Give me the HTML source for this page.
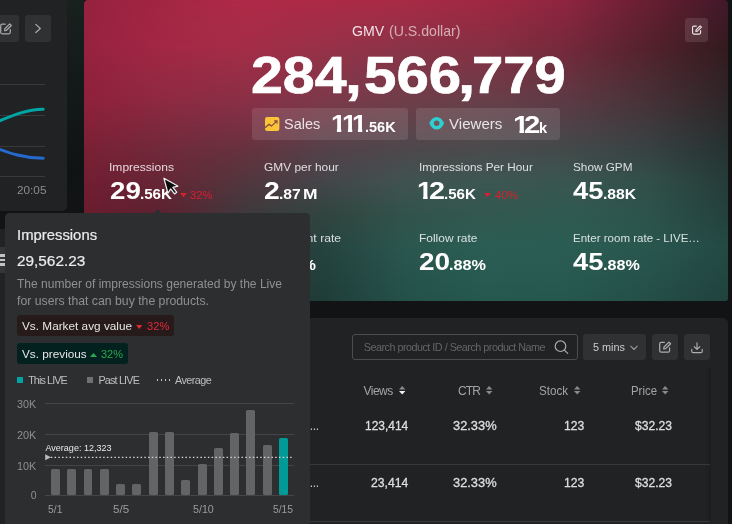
<!DOCTYPE html>
<html lang="en"><head><meta charset="utf-8"><title>Live dashboard</title>
<style>
html,body{margin:0;padding:0}
body{width:732px;height:524px;overflow:hidden;background:#111314;position:relative;font-family:"Liberation Sans",sans-serif;}
.t{position:absolute;height:80px;transform-origin:0 0;display:flex;align-items:baseline;white-space:nowrap;line-height:1;}
.t::before{content:"";width:0;height:80px;flex:none}
#app{position:absolute;left:0;top:0;width:732px;height:524px;overflow:hidden;will-change:transform}
.b{position:absolute;box-sizing:border-box}
svg{position:absolute;overflow:visible}
</style></head>
<body>
<div id="app">
<div class="b" style="left:67px;top:0px;width:17px;height:211px;background:linear-gradient(180deg,#19211f 0%,#141a19 35%,#101314 80%,#111314 100%);"></div>
<div class="b" style="left:0px;top:0px;width:67px;height:211px;background:#202224;border-radius:0 0 5px 0;"></div>
<div class="b" style="left:-7px;top:15.2px;width:26px;height:26.6px;background:#2f3133;border-radius:3px;"></div>
<div class="b" style="left:25px;top:15.2px;width:26px;height:26.6px;background:#2f3133;border-radius:3px;"></div>
<svg style="left:0;top:22.5px" width="12" height="12" viewBox="0 0 12 12" fill="none" stroke="#a8a9ab" stroke-width="1.25" stroke-linecap="round" stroke-linejoin="round"><path d="M5.2 1.2H2.2Q.7 1.2 .7 2.7v6.6q0 1.5 1.5 1.5h6.6q1.5 0 1.5-1.5V6.6"/><path d="M4.6 7.6l.3-1.9L9.7.9l1.6 1.6-4.8 4.8z"/></svg>
<svg style="left:33px;top:22px" width="10" height="13" viewBox="0 0 10 13" fill="none" stroke="#a8a9ab" stroke-width="1.25" stroke-linecap="round" stroke-linejoin="round"><path d="M2.800 2.400l4.500 4.050-4.500 4.050"/></svg>
<div class="b" style="left:0px;top:84px;width:44.5px;height:1px;background:#38393b;"></div>
<div class="b" style="left:0px;top:115px;width:44.5px;height:1px;background:#38393b;"></div>
<div class="b" style="left:0px;top:146px;width:44.5px;height:1px;background:#38393b;"></div>
<div class="b" style="left:0px;top:175.5px;width:44.5px;height:1px;background:#38393b;"></div>
<svg style="left:0;top:0" width="67" height="211" viewBox="0 0 67 211" fill="none" stroke-width="3" stroke-linecap="round"><path d="M-6 123.200C8 117.500 24 109.600 43.200 109.200" stroke="#00a6a6"/><path d="M-6 147.300C10 153.200 24 158.200 43.200 158.300" stroke="#2669cf"/></svg>
<div class="t" style="left:17.21px;top:114px;font-size:10.3px;color:#8b8c8e;transform:scaleX(1.1429);">20:05</div>
<div class="b" style="left:0px;top:229px;width:67px;height:300px;background:#202224;border-radius:0 5px 0 0;"></div>
<div class="b" style="left:-14px;top:247px;width:26px;height:26px;background:#343638;border-radius:3px;"></div>
<div class="b" style="left:-6px;top:254.4px;width:16px;height:2.3px;background:#c2c3c5;"></div>
<div class="b" style="left:-6px;top:258.9px;width:16px;height:2.3px;background:#c2c3c5;"></div>
<div class="b" style="left:-6px;top:263.4px;width:16px;height:2.3px;background:#c2c3c5;"></div>
<div class="b" style="left:84px;top:0px;width:644px;height:300.5px;border-radius:4px;overflow:hidden">
<div style="position:absolute;left:0;top:0;width:100%;height:100%;background:linear-gradient(90deg,#962240 0.00%,#a42643 12.58%,#b02a48 25.00%,#ad2a47 37.42%,#a82a45 49.84%,#a02842 62.27%,#8f2540 74.69%,#6a1f32 87.11%,#42192a 100.00%);"></div>
<div style="position:absolute;left:0;top:0;width:100%;height:100%;background:linear-gradient(90deg,#962240 0.00%,#a32845 12.58%,#a42d47 25.00%,#973148 37.42%,#8a3448 49.84%,#863043 62.27%,#75293a 74.69%,#55222e 87.11%,#331b20 100.00%);-webkit-mask-image:linear-gradient(180deg,transparent 0px,#000 48px);mask-image:linear-gradient(180deg,transparent 0px,#000 48px);"></div>
<div style="position:absolute;left:0;top:0;width:100%;height:100%;background:linear-gradient(90deg,#8e213b 0.00%,#8c2a41 12.58%,#883046 25.00%,#7a3a4a 37.42%,#6e3e4a 49.84%,#66404a 62.27%,#5c3b46 74.69%,#473339 87.11%,#2e2628 100.00%);-webkit-mask-image:linear-gradient(180deg,transparent 48px,#000 103px);mask-image:linear-gradient(180deg,transparent 48px,#000 103px);"></div>
<div style="position:absolute;left:0;top:0;width:100%;height:100%;background:linear-gradient(90deg,#7a2035 0.00%,#702a3a 12.58%,#66323f 25.00%,#54424a 37.42%,#4d484c 49.84%,#4a4b4d 62.27%,#434a4a 74.69%,#384343 87.11%,#263332 100.00%);-webkit-mask-image:linear-gradient(180deg,transparent 103px,#000 150px);mask-image:linear-gradient(180deg,transparent 103px,#000 150px);"></div>
<div style="position:absolute;left:0;top:0;width:100%;height:100%;background:linear-gradient(90deg,#721e32 0.00%,#652736 12.58%,#52363e 25.00%,#44464a 37.42%,#405350 49.84%,#3d5752 62.27%,#3a5650 74.69%,#325049 87.11%,#263c39 100.00%);-webkit-mask-image:linear-gradient(180deg,transparent 150px,#000 182px);mask-image:linear-gradient(180deg,transparent 150px,#000 182px);"></div>
<div style="position:absolute;left:0;top:0;width:100%;height:100%;background:linear-gradient(90deg,#6a1c2e 0.00%,#5b2331 12.58%,#3f393d 25.00%,#32453f 37.42%,#32534b 49.84%,#33584f 62.27%,#305a51 74.69%,#2d544c 87.11%,#24413d 100.00%);-webkit-mask-image:linear-gradient(180deg,transparent 182px,#000 213px);mask-image:linear-gradient(180deg,transparent 182px,#000 213px);"></div>
<div style="position:absolute;left:0;top:0;width:100%;height:100%;background:linear-gradient(90deg,#5a1a2a 0.00%,#482430 12.58%,#33373a 25.00%,#26433f 37.42%,#2a574e 49.84%,#2b5e54 62.27%,#2b5d53 74.69%,#29574e 87.11%,#244a44 100.00%);-webkit-mask-image:linear-gradient(180deg,transparent 213px,#000 248px);mask-image:linear-gradient(180deg,transparent 213px,#000 248px);"></div>
<div style="position:absolute;left:0;top:0;width:100%;height:100%;background:linear-gradient(90deg,#4a1a26 0.00%,#38252c 12.58%,#263436 25.00%,#1f3d38 37.42%,#24514a 49.84%,#26584f 62.27%,#26574e 74.69%,#244f48 87.11%,#20433d 100.00%);-webkit-mask-image:linear-gradient(180deg,transparent 248px,#000 300px);mask-image:linear-gradient(180deg,transparent 248px,#000 300px);"></div>
</div>
<div class="t" style="left:352.09px;top:-44px;font-size:14.4px;color:rgba(255,255,255,.86);transform:scaleX(0.9843);">GMV</div>
<div class="t" style="left:388.92px;top:-44px;font-size:14.4px;color:rgba(255,255,255,.6);transform:scaleX(0.9822);">(U.S.dollar)</div>
<div class="t" style="left:250.90px;top:13px;font-size:52px;color:#fff;font-weight:700;transform:scaleX(1.1013);-webkit-text-stroke:.7px #fff;">284</div>
<div class="t" style="left:345.00px;top:13px;font-size:52px;color:#fff;font-weight:700;transform:scaleX(1.1671);-webkit-text-stroke:.7px #fff;">,</div>
<div class="t" style="left:363.75px;top:13px;font-size:52px;color:#fff;font-weight:700;transform:scaleX(1.1196);-webkit-text-stroke:.7px #fff;">566</div>
<div class="t" style="left:457.51px;top:13px;font-size:52px;color:#fff;font-weight:700;transform:scaleX(1.1936);-webkit-text-stroke:.7px #fff;">,</div>
<div class="t" style="left:472.01px;top:13px;font-size:52px;color:#fff;font-weight:700;transform:scaleX(1.0801);-webkit-text-stroke:.7px #fff;">779</div>
<div class="b" style="left:252.4px;top:107.8px;width:155.4px;height:32px;background:rgba(255,255,255,.11);border-radius:3px;"></div>
<div class="b" style="left:416.2px;top:107.8px;width:143.6px;height:32px;background:rgba(255,255,255,.11);border-radius:3px;"></div>
<svg style="left:265px;top:116.600px" width="14.400" height="14" viewBox="0 0 14.600 14.200"><rect width="14.600" height="14.200" rx="2.200" fill="#fbc338"/><path d="M0 10.900L4.100 7.300l2.400 1.900 4.900-4.500M9.300 3.900h2.900v2.800" fill="none" stroke="#7d4a3c" stroke-width="1.200" stroke-linejoin="round"/></svg>
<div class="t" style="left:284.40px;top:49px;font-size:15px;color:rgba(255,255,255,.84);transform:scaleX(0.9632);">Sales</div>
<div class="t" style="left:330.97px;top:52px;font-size:24.4px;color:#fff;font-weight:700;clip-path:polygon(-5.00px 0.00px,23.57px 0.00px,23.57px 76.81px,9.34px 76.81px,9.34px 86.10px,5.39px 86.10px,5.39px 76.81px,-5.00px 76.81px);transform:scaleX(1.0985);">1</div>
<div class="t" style="left:341.57px;top:52px;font-size:24.4px;color:#fff;font-weight:700;clip-path:polygon(-5.00px 0.00px,23.57px 0.00px,23.57px 76.81px,9.34px 76.81px,9.34px 86.10px,5.39px 86.10px,5.39px 76.81px,-5.00px 76.81px);transform:scaleX(1.0985);">1</div>
<div class="t" style="left:352.17px;top:52px;font-size:24.4px;color:#fff;font-weight:700;clip-path:polygon(-5.00px 0.00px,23.57px 0.00px,23.57px 76.81px,9.34px 76.81px,9.34px 86.10px,5.39px 86.10px,5.39px 76.81px,-5.00px 76.81px);transform:scaleX(1.0985);">1</div>
<div class="t" style="left:364.92px;top:52px;font-size:15px;color:#fff;font-weight:700;transform:scaleX(0.9664);">.56K</div>
<svg style="left:429px;top:117.400px" width="15.400" height="12.600" viewBox="0 0 15.400 12.600"><path fill-rule="evenodd" fill="#2ecfd0" d="M.25 6.300C2.100 2.100 4.600 0 7.700 0s5.600 2.100 7.450 6.300c-1.850 4.200-4.350 6.300-7.450 6.300S2.100 10.500.25 6.300zM7.700 3.500a2.800 2.800 0 1 0 0 5.600 2.800 2.800 0 0 0 0-5.600z"/></svg>
<div class="t" style="left:448.97px;top:49px;font-size:15px;color:rgba(255,255,255,.84);transform:scaleX(1.0045);">Viewers</div>
<div class="t" style="left:512.61px;top:53px;font-size:24.8px;color:#fff;font-weight:700;clip-path:polygon(-5.00px 0.00px,23.79px 0.00px,23.79px 76.77px,9.49px 76.77px,9.49px 86.20px,5.49px 86.20px,5.49px 76.77px,-5.00px 76.77px);transform:scaleX(1.1742);">1</div>
<div class="t" style="left:523.97px;top:53px;font-size:24.8px;color:#fff;font-weight:700;transform:scaleX(1.1867);">2</div>
<div class="t" style="left:539.28px;top:53px;font-size:14.4px;color:#fff;font-weight:700;transform:scaleX(1.0114);">k</div>
<div class="b" style="left:685px;top:18px;width:23px;height:23.5px;background:rgba(255,255,255,.11);border-radius:3px;"></div>
<svg style="left:691.700px;top:24.900px" width="10" height="10.200" viewBox="0 0 12 12" fill="none" stroke="#f0e6e8" stroke-width="1.350" stroke-linecap="round" stroke-linejoin="round"><path d="M5.200 1.200H2.200Q.7 1.200.7 2.700v6.600q0 1.500 1.500 1.500h6.600q1.500 0 1.500-1.500V6.600"/><path d="M4.600 7.600l.3-1.900L9.700.9l1.600 1.600-4.800 4.800z"/></svg>
<div class="t" style="left:109.29px;top:91px;font-size:11.3px;color:rgba(255,255,255,.82);transform:scaleX(1.0662);">Impressions</div>
<div class="t" style="left:264.40px;top:91px;font-size:11.3px;color:rgba(255,255,255,.82);transform:scaleX(1.0537);">GMV per hour</div>
<div class="t" style="left:418.51px;top:91px;font-size:11.3px;color:rgba(255,255,255,.82);transform:scaleX(1.0420);">Impressions Per Hour</div>
<div class="t" style="left:573.47px;top:91px;font-size:11.3px;color:rgba(255,255,255,.82);transform:scaleX(1.0406);">Show GPM</div>
<div class="t" style="left:264.39px;top:162px;font-size:11.3px;color:rgba(255,255,255,.82);transform:scaleX(1.0774);">Comment rate</div>
<div class="t" style="left:418.71px;top:162px;font-size:11.3px;color:rgba(255,255,255,.82);transform:scaleX(1.0586);">Follow rate</div>
<div class="t" style="left:573.05px;top:162px;font-size:11.3px;color:rgba(255,255,255,.82);transform:scaleX(1.0205);">Enter room rate - LIVE…</div>
<div class="t" style="left:109.53px;top:119px;font-size:24.8px;color:#fff;font-weight:700;transform:scaleX(1.1166);">29</div>
<div class="t" style="left:140.08px;top:119px;font-size:15px;color:#fff;font-weight:700;transform:scaleX(1.0090);">.56K</div>
<div class="t" style="left:264.01px;top:119px;font-size:24.8px;color:#fff;font-weight:700;transform:scaleX(1.1449);">2</div>
<div class="t" style="left:278.95px;top:119px;font-size:15px;color:#fff;font-weight:700;transform:scaleX(1.0417);">.87</div>
<div class="t" style="left:303.32px;top:119px;font-size:15px;color:#fff;font-weight:700;transform:scaleX(1.1619);">M</div>
<div class="t" style="left:416.80px;top:119px;font-size:24.8px;color:#fff;font-weight:700;clip-path:polygon(-5.00px 0.00px,23.79px 0.00px,23.79px 76.77px,9.49px 76.77px,9.49px 86.20px,5.49px 86.20px,5.49px 76.77px,-5.00px 76.77px);transform:scaleX(1.1208);">1</div>
<div class="t" style="left:428.69px;top:119px;font-size:24.8px;color:#fff;font-weight:700;transform:scaleX(1.1616);">2</div>
<div class="t" style="left:443.99px;top:119px;font-size:15px;color:#fff;font-weight:700;transform:scaleX(1.0025);">.56K</div>
<div class="t" style="left:573.29px;top:119px;font-size:24.8px;color:#fff;font-weight:700;transform:scaleX(1.1042);">45</div>
<div class="t" style="left:603.44px;top:119px;font-size:15px;color:#fff;font-weight:700;transform:scaleX(1.0483);">.88K</div>
<div class="t" style="left:264.01px;top:190px;font-size:24.8px;color:#fff;font-weight:700;transform:scaleX(1.1449);">2</div>
<div class="t" style="left:278.90px;top:190px;font-size:15px;color:#fff;font-weight:700;transform:scaleX(1.0831);">.88%</div>
<div class="t" style="left:418.52px;top:190px;font-size:24.8px;color:#fff;font-weight:700;transform:scaleX(1.1259);">20</div>
<div class="t" style="left:448.90px;top:190px;font-size:15px;color:#fff;font-weight:700;transform:scaleX(1.0831);">.88%</div>
<div class="t" style="left:573.29px;top:190px;font-size:24.8px;color:#fff;font-weight:700;transform:scaleX(1.1042);">45</div>
<div class="t" style="left:603.41px;top:190px;font-size:15px;color:#fff;font-weight:700;transform:scaleX(1.0740);">.88%</div>
<svg style="left:179.800px;top:193.200px" width="6.900" height="4.400" viewBox="0 0 6.500 4"><path d="M.2 0h6.100L3.250 4z" fill="#d8202f"/></svg>
<div class="t" style="left:190.38px;top:119px;font-size:11px;color:#d8202f;transform:scaleX(1.0174);">32%</div>
<svg style="left:483.900px;top:193.200px" width="6.900" height="4.400" viewBox="0 0 6.500 4"><path d="M.2 0h6.100L3.250 4z" fill="#d8202f"/></svg>
<div class="t" style="left:494.74px;top:119px;font-size:11px;color:#d8202f;transform:scaleX(1.0516);">40%</div>
<div class="b" style="left:84px;top:318px;width:644px;height:220px;background:#202224;border-radius:5px 5px 0 0;"></div>
<div class="b" style="left:704.5px;top:368px;width:6.5px;height:170px;background:linear-gradient(90deg,rgba(0,0,0,0),rgba(0,0,0,.16));"></div>
<div class="b" style="left:352px;top:334px;width:225.5px;height:26px;background:transparent;border-radius:3px;border:1px solid #4c4d4f;"></div>
<div class="t" style="left:363.71px;top:271px;font-size:10.8px;color:#646567;letter-spacing:-0.504px;">Search product ID / Search product Name</div>
<svg style="left:554px;top:340px" width="16" height="16" viewBox="0 0 16 16" fill="none" stroke="#a9aaac" stroke-width="1.200" stroke-linecap="round"><circle cx="6.500" cy="6.200" r="5.300"/><path d="M10.400 10.100l3.300 3.300"/></svg>
<div class="b" style="left:583px;top:334px;width:63px;height:26px;background:#2f3133;border-radius:3px;"></div>
<div class="t" style="left:593.07px;top:271px;font-size:11px;color:#cbccce;transform:scaleX(0.9851);">5 mins</div>
<svg style="left:629.500px;top:344.500px" width="8" height="6" viewBox="0 0 8 6" fill="none" stroke="#97989a" stroke-width="1.100" stroke-linecap="round" stroke-linejoin="round"><path d="M.8 1.200l3.200 3.300 3.200-3.300"/></svg>
<div class="b" style="left:652px;top:334px;width:26px;height:26px;background:#2f3133;border-radius:3px;"></div>
<svg style="left:659px;top:341px" width="12.300" height="12.600" viewBox="0 0 12 12" fill="none" stroke="#adaeb0" stroke-width="1.200" stroke-linecap="round" stroke-linejoin="round"><path d="M5.200 1.200H2.200Q.7 1.200.7 2.700v6.600q0 1.500 1.500 1.500h6.600q1.500 0 1.500-1.500V6.600"/><path d="M4.600 7.600l.3-1.900L9.700.9l1.600 1.600-4.800 4.800z"/></svg>
<div class="b" style="left:684px;top:334px;width:26px;height:26px;background:#2f3133;border-radius:3px;"></div>
<svg style="left:691.400px;top:341.500px" width="12" height="11.500" viewBox="0 0 12.500 11.500" fill="none" stroke="#adaeb0" stroke-width="1.200" stroke-linecap="round" stroke-linejoin="round"><path d="M6.250.7v6.600M3.400 4.700l2.850 2.800L9.100 4.700"/><path d="M.8 7.300v2q0 1.500 1.500 1.500h7.900q1.500 0 1.500-1.500v-2"/></svg>
<div class="t" style="left:363.54px;top:315px;font-size:12px;color:#a3a4a6;letter-spacing:-0.530px;">Views</div>
<svg style="left:399.0px;top:386.200px" width="6.400" height="8.400" viewBox="0 0 6.400 8.400"><path d="M0 3.500L3.200 0l3.200 3.500z" fill="#8a8b8d"/><path d="M0 4.900h6.400L3.200 8.400z" fill="#f2f2f2"/></svg>
<div class="t" style="left:458.10px;top:315px;font-size:12px;color:#a3a4a6;letter-spacing:-0.945px;">CTR</div>
<svg style="left:486.2px;top:386.200px" width="6.400" height="8.400" viewBox="0 0 6.400 8.400"><path d="M0 3.500L3.200 0l3.200 3.500z" fill="#8a8b8d"/><path d="M0 4.900h6.400L3.200 8.400z" fill="#8a8b8d"/></svg>
<div class="t" style="left:539.18px;top:315px;font-size:12px;color:#a3a4a6;transform:scaleX(0.9674);">Stock</div>
<svg style="left:574.3px;top:386.200px" width="6.400" height="8.400" viewBox="0 0 6.400 8.400"><path d="M0 3.500L3.200 0l3.200 3.500z" fill="#8a8b8d"/><path d="M0 4.900h6.400L3.200 8.400z" fill="#8a8b8d"/></svg>
<div class="t" style="left:630.66px;top:315px;font-size:12px;color:#a3a4a6;transform:scaleX(0.9524);">Price</div>
<svg style="left:662.0999999999999px;top:386.200px" width="6.400" height="8.400" viewBox="0 0 6.400 8.400"><path d="M0 3.500L3.200 0l3.200 3.500z" fill="#8a8b8d"/><path d="M0 4.900h6.400L3.200 8.400z" fill="#8a8b8d"/></svg>
<div class="t" style="left:309.72px;top:350px;font-size:12px;color:#c8c8c8;letter-spacing:-0.315px;">...</div>
<div class="t" style="left:365.10px;top:350px;font-size:11.9px;color:#dededf;transform:scaleX(1.0055);-webkit-text-stroke:.3px #dededf;">123,414</div>
<div class="t" style="left:452.82px;top:350px;font-size:11.9px;color:#dededf;transform:scaleX(1.0808);-webkit-text-stroke:.3px #dededf;">32.33%</div>
<div class="t" style="left:564.29px;top:350px;font-size:11.9px;color:#dededf;transform:scaleX(1.0247);-webkit-text-stroke:.3px #dededf;">123</div>
<div class="t" style="left:635.08px;top:350px;font-size:11.9px;color:#dededf;transform:scaleX(1.0179);-webkit-text-stroke:.3px #dededf;">$32.23</div>
<div class="t" style="left:309.72px;top:407px;font-size:12px;color:#c8c8c8;letter-spacing:-0.315px;">...</div>
<div class="t" style="left:370.99px;top:407px;font-size:11.9px;color:#dededf;transform:scaleX(1.0265);-webkit-text-stroke:.3px #dededf;">23,414</div>
<div class="t" style="left:452.82px;top:407px;font-size:11.9px;color:#dededf;transform:scaleX(1.0808);-webkit-text-stroke:.3px #dededf;">32.33%</div>
<div class="t" style="left:564.29px;top:407px;font-size:11.9px;color:#dededf;transform:scaleX(1.0247);-webkit-text-stroke:.3px #dededf;">123</div>
<div class="t" style="left:635.08px;top:407px;font-size:11.9px;color:#dededf;transform:scaleX(1.0179);-webkit-text-stroke:.3px #dededf;">$32.23</div>
<div class="b" style="left:84px;top:463.5px;width:626.4px;height:1px;background:#37383a;"></div>
<div class="b" style="left:84px;top:520.6px;width:626.4px;height:1px;background:#37383a;"></div>
<svg style="left:153.800px;top:208.900px" width="7.600" height="4.300" viewBox="0 0 7.600 4.300"><path d="M0 4.300L3.800 0l3.800 4.300z" fill="#2d2e30"/></svg>
<div class="b" style="left:5px;top:213px;width:304.8px;height:330px;background:#2d2e30;border-radius:4.5px;"></div>
<div class="t" style="left:16.63px;top:160px;font-size:14.1px;color:#ececec;transform:scaleX(1.0539);-webkit-text-stroke:.2px #ececec;">Impressions</div>
<div class="t" style="left:16.83px;top:186px;font-size:13.8px;color:#ececec;transform:scaleX(1.1115);-webkit-text-stroke:.2px #ececec;">29,562.23</div>
<div class="t" style="left:17.33px;top:208px;font-size:12px;color:#8f9092;transform:scaleX(1.0032);">The number of impressions generated by the Live</div>
<div class="t" style="left:17.45px;top:225px;font-size:12px;color:#8f9092;transform:scaleX(1.0205);">for users that can buy the products.</div>
<div class="b" style="left:17px;top:315.4px;width:156.6px;height:21px;background:#271a1a;border-radius:3px;"></div>
<div class="t" style="left:21.64px;top:250px;font-size:11.6px;color:#e6e6e6;transform:scaleX(1.0170);">Vs. Market avg value</div>
<svg style="left:136px;top:325.300px" width="6.400" height="4" viewBox="0 0 6.400 4"><path d="M.1 0h6.200L3.200 4z" fill="#e3283a"/></svg>
<div class="t" style="left:146.68px;top:250px;font-size:11.3px;color:#e3283a;transform:scaleX(0.9858);">32%</div>
<div class="b" style="left:17px;top:342.5px;width:111px;height:21.1px;background:#03211f;border-radius:3px;"></div>
<div class="t" style="left:21.64px;top:278px;font-size:11.6px;color:#e6e6e6;transform:scaleX(1.0148);">Vs. previous</div>
<svg style="left:90.200px;top:353px" width="7" height="4" viewBox="0 0 7 4"><path d="M0 4L3.500 0 7 4z" fill="#2ba84f"/></svg>
<div class="t" style="left:101.39px;top:278px;font-size:11.3px;color:#2ba84f;transform:scaleX(0.9721);">32%</div>
<div class="b" style="left:17px;top:377px;width:6px;height:6px;background:#00a4a2;"></div>
<div class="t" style="left:28.16px;top:304px;font-size:10.8px;color:#bebfc1;letter-spacing:-0.902px;">This LIVE</div>
<div class="b" style="left:87.2px;top:377px;width:6px;height:6px;background:#707173;"></div>
<div class="t" style="left:98.51px;top:304px;font-size:10.8px;color:#bebfc1;letter-spacing:-0.835px;">Past LIVE</div>
<div class="b" style="left:156.6px;top:379.3px;width:1.5px;height:1.5px;background:#c4c5c7;"></div>
<div class="b" style="left:160.7px;top:379.3px;width:1.5px;height:1.5px;background:#c4c5c7;"></div>
<div class="b" style="left:164.79999999999998px;top:379.3px;width:1.5px;height:1.5px;background:#c4c5c7;"></div>
<div class="b" style="left:168.9px;top:379.3px;width:1.5px;height:1.5px;background:#c4c5c7;"></div>
<div class="t" style="left:175.07px;top:304px;font-size:10.8px;color:#bebfc1;letter-spacing:-0.571px;">Average</div>
<div class="t" style="left:16.99px;top:328px;font-size:10.5px;color:#8e8f91;transform:scaleX(1.0295);">30K</div>
<div class="t" style="left:16.86px;top:359px;font-size:10.5px;color:#8e8f91;transform:scaleX(1.0369);">20K</div>
<div class="t" style="left:16.88px;top:390px;font-size:10.5px;color:#8e8f91;transform:scaleX(1.0354);">10K</div>
<div class="t" style="left:30.67px;top:419px;font-size:10.5px;color:#8e8f91;">0</div>
<div class="b" style="left:45px;top:403px;width:248.6px;height:1px;background:#444547;"></div>
<div class="b" style="left:45px;top:434px;width:248.6px;height:1px;background:#444547;"></div>
<div class="b" style="left:45px;top:465px;width:248.6px;height:1px;background:#444547;"></div>
<div class="b" style="left:45px;top:495px;width:248.6px;height:1px;background:#444547;"></div>
<div class="b" style="left:51.0px;top:468.8px;width:8.9px;height:26.0px;background:#636466;border-radius:1.6px;"></div>
<div class="b" style="left:67.29px;top:468.8px;width:8.9px;height:26.0px;background:#636466;border-radius:1.6px;"></div>
<div class="b" style="left:83.58px;top:468.8px;width:8.9px;height:26.0px;background:#636466;border-radius:1.6px;"></div>
<div class="b" style="left:99.87px;top:468.8px;width:8.9px;height:26.0px;background:#636466;border-radius:1.6px;"></div>
<div class="b" style="left:116.16px;top:484.4px;width:8.9px;height:10.400000000000034px;background:#636466;border-radius:1.6px;"></div>
<div class="b" style="left:132.45px;top:484.4px;width:8.9px;height:10.400000000000034px;background:#636466;border-radius:1.6px;"></div>
<div class="b" style="left:148.74px;top:432.4px;width:8.9px;height:62.400000000000034px;background:#636466;border-radius:1.6px;"></div>
<div class="b" style="left:165.03px;top:432.4px;width:8.9px;height:62.400000000000034px;background:#636466;border-radius:1.6px;"></div>
<div class="b" style="left:181.32px;top:480px;width:8.9px;height:14.800000000000011px;background:#636466;border-radius:1.6px;"></div>
<div class="b" style="left:197.61px;top:464px;width:8.9px;height:30.80000000000001px;background:#636466;border-radius:1.6px;"></div>
<div class="b" style="left:213.9px;top:448.4px;width:8.9px;height:46.400000000000034px;background:#636466;border-radius:1.6px;"></div>
<div class="b" style="left:230.19px;top:432.9px;width:8.9px;height:61.900000000000034px;background:#636466;border-radius:1.6px;"></div>
<div class="b" style="left:246.48px;top:409.8px;width:8.9px;height:85.0px;background:#636466;border-radius:1.6px;"></div>
<div class="b" style="left:262.77px;top:445px;width:8.9px;height:49.80000000000001px;background:#636466;border-radius:1.6px;"></div>
<div class="b" style="left:279.06px;top:438.1px;width:8.9px;height:56.69999999999999px;background:#009a97;border-radius:1.6px;"></div>
<svg style="left:45px;top:453px" width="250" height="9" viewBox="0 0 250 9"><path d="M.2 1.300L6 4.300.2 7.300z" fill="#b9babc"/><path d="M5.800 4.300H248.600" stroke="#d4d4d6" stroke-width="1.300" stroke-dasharray="1.500 2.240" fill="none"/></svg>
<div class="t" style="left:45.48px;top:371px;font-size:9px;color:#e8e8e8;letter-spacing:0.009px;">Average: 12,323</div>
<div class="t" style="left:47.69px;top:433px;font-size:10.6px;color:#9b9c9e;transform:scaleX(0.9778);">5/1</div>
<div class="t" style="left:112.94px;top:433px;font-size:10.6px;color:#9b9c9e;transform:scaleX(1.0946);">5/5</div>
<div class="t" style="left:193.17px;top:433px;font-size:10.6px;color:#9b9c9e;transform:scaleX(1.0053);">5/10</div>
<div class="t" style="left:272.69px;top:433px;font-size:10.6px;color:#9b9c9e;transform:scaleX(0.9712);">5/15</div>
<svg style="left:0;top:0" width="732" height="524" viewBox="0 0 732 524"><g transform="translate(163.900 178.200) rotate(-15) scale(.95)"><path d="M0 0v16.400l3.900-3.600 2.600 6.100 2.700-1.200-2.600-5.900h5.400z" fill="#0c0c0c" stroke="#f2f2f2" stroke-width="1.300" stroke-linejoin="round"/></g></svg>
</div>
</body></html>
